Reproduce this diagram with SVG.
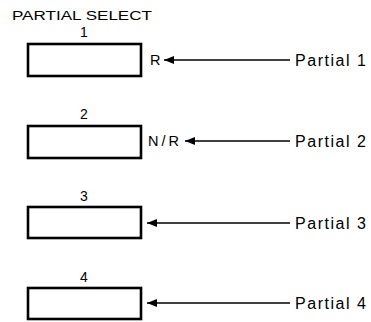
<svg xmlns="http://www.w3.org/2000/svg" width="371" height="322" viewBox="0 0 371 322">
<defs>
<style>
text{font-family:"Liberation Sans",Arial,sans-serif;fill:#000}
.box{fill:#fff;stroke:#000;stroke-width:2.6}
.lab{font-size:14px;text-anchor:middle}
.pin{font-size:14.5px}
.src{font-size:16px}
.wire{stroke:#000;stroke-width:1.5;fill:none}
</style>
<marker id="ah" viewBox="0 0 10 8" refX="10" refY="4" markerWidth="10" markerHeight="8" markerUnits="userSpaceOnUse" orient="auto">
<path d="M0,4 L10,0 L10,8 Z" fill="#000" transform="rotate(180 5 4)"/>
</marker>
</defs>
<rect width="371" height="322" fill="#fff"/>
<text x="12" y="20" font-size="12.5" textLength="140" lengthAdjust="spacingAndGlyphs">PARTIAL SELECT</text>
<g id="node1">
<rect class="box" x="28" y="44" width="113" height="32"/>
<text class="lab" x="84" y="37">1</text>
<text class="pin" x="150" y="65">R</text>
</g>
<g id="node2">
<rect class="box" x="28" y="126" width="113" height="32"/>
<text class="lab" x="84" y="119">2</text>
<text class="pin" x="148" y="146" textLength="31" lengthAdjust="spacing">N/R</text>
</g>
<g id="node3">
<rect class="box" x="28" y="207" width="113" height="31"/>
<text class="lab" x="84" y="201">3</text>
</g>
<g id="node4">
<rect class="box" x="28" y="288" width="113" height="31"/>
<text class="lab" x="84" y="282">4</text>
</g>
<g id="sources">
<text class="src" x="295" y="66" textLength="71" lengthAdjust="spacing">Partial 1</text>
<text class="src" x="295" y="147" textLength="71" lengthAdjust="spacing">Partial 2</text>
<text class="src" x="295" y="229" textLength="71" lengthAdjust="spacing">Partial 3</text>
<text class="src" x="295" y="309" textLength="71" lengthAdjust="spacing">Partial 4</text>
</g>
<g id="connectors">
<line class="wire" x1="290" y1="60" x2="164" y2="60" marker-end="url(#ah)"/>
<line class="wire" x1="290" y1="141" x2="185" y2="141" marker-end="url(#ah)"/>
<line class="wire" x1="290" y1="223" x2="147" y2="223" marker-end="url(#ah)"/>
<line class="wire" x1="290" y1="303" x2="147" y2="303" marker-end="url(#ah)"/>
</g>
</svg>
